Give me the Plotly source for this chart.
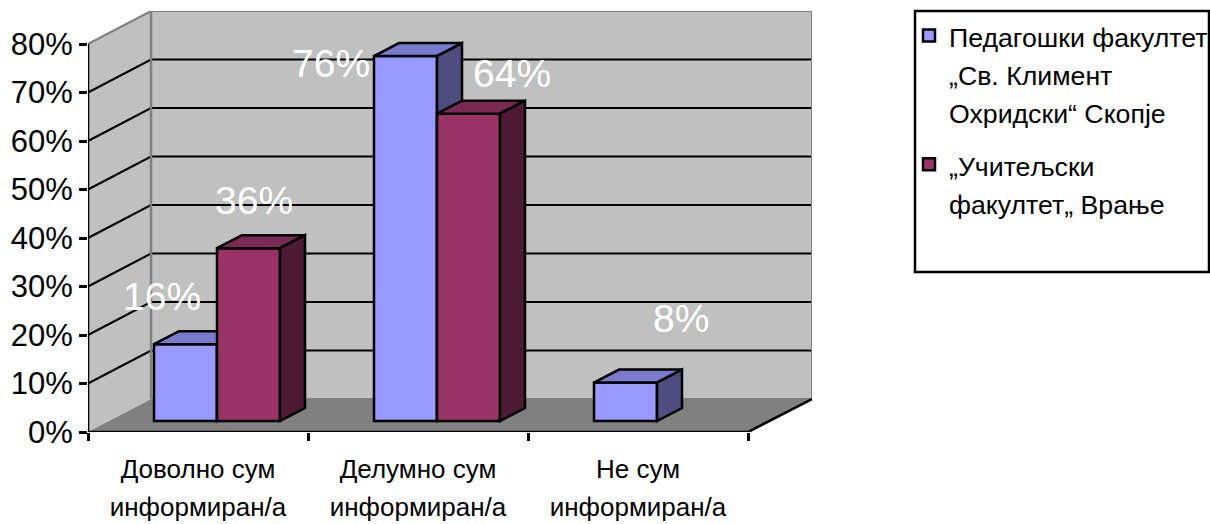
import plotly.graph_objects as go

categories = ["Доволно сум<br>информиран/а", "Делумно сум<br>информиран/а", "Не сум<br>информиран/а"]
series_names = ["Педагошки факултет<br>„Св. Климент<br>Охридски“ Скопје",
                "„Учитељски<br>факултет„ Врање"]
blue_values = [16, 76, 8]
maroon_values = [36, 64, None]
y_ticks = [0, 10, 20, 30, 40, 50, 60, 70, 80]

# hand-placed data label positions (axis units)
blue_label_x = [0.336, 1.105, 2.695]
blue_label_y = [27.9, 75.9, 23.5]
maroon_label_x = [0.755, 1.927]
maroon_label_y = [47.8, 74.0]

# pseudo-3D geometry in axis units
PX_X, PX_Y = 220.0, 4.85
X_MAX = 724 / PX_X
Y_MAX = 421 / PX_Y
N = len(categories)
WALL_DX, WALL_DY = 63 / PX_X, 33 / PX_Y
BAR_DX, BAR_DY = 25 / PX_X, 13 / PX_Y
BAR_BASE = 11 / PX_Y
BAR_W = 63 / PX_X
BAR_START = 66 / PX_X
BAR_SCALE = 0.99

FONT = "Liberation Sans, Arial, sans-serif"
BLACK = "#000000"
WALL, FLOOR = "#C0C0C0", "#808080"
BLUE = ("#9999FF", "#7A7ACC", "#4D4D80")
MAROON = ("#993366", "#7A2952", "#4D1A33")
OUTLINE = 2.5


def sized(text, px=26):
    return "<br>".join(f'<span style="font-size:{px}px">{part}</span>' for part in text.split("<br>"))


fig = go.Figure()


def add_series(values, name, colours, slot, xa, ya):
    xs, tops = [], []
    for i, v in enumerate(values):
        if v is None:
            continue
        xs.append(i + BAR_START + slot * BAR_W + BAR_W / 2)
        tops.append(v * BAR_SCALE)
    fig.add_bar(x=xs, y=tops, base=BAR_BASE, width=BAR_W, name=sized(name, 26.7), xaxis=xa, yaxis=ya,
                legendgroup=f"s{slot}",
                marker=dict(color=colours[0], line=dict(color=BLACK, width=OUTLINE)))
    for xc, h in zip(xs, tops):
        l, r = xc - BAR_W / 2, xc + BAR_W / 2
        t, b = BAR_BASE + h, BAR_BASE
        fig.add_scatter(x=[l, l + BAR_DX, r + BAR_DX, r, l],
                        y=[t, t + BAR_DY, t + BAR_DY, t, t],
                        mode="lines", fill="toself", fillcolor=colours[1],
                        line=dict(color=BLACK, width=OUTLINE), showlegend=False,
                        hoverinfo="skip", xaxis=xa, yaxis=ya)
        fig.add_scatter(x=[r, r + BAR_DX, r + BAR_DX, r, r],
                        y=[t, t + BAR_DY, b + BAR_DY, b, t],
                        mode="lines", fill="toself", fillcolor=colours[2],
                        line=dict(color=BLACK, width=OUTLINE), showlegend=False,
                        hoverinfo="skip", xaxis=xa, yaxis=ya)


add_series(blue_values, series_names[0], BLUE, 0, "x", "y")
add_series(maroon_values, series_names[1], MAROON, 1, "x2", "y2")

shapes = []


def poly(points, fill=None, color=None, width=0, layer="below"):
    path = "M " + " L ".join(f"{a} {b}" for a, b in points)
    if fill:
        path += " Z"
    shapes.append(dict(type="path", path=path, xref="x", yref="y", layer=layer,
                       fillcolor=fill or "rgba(0,0,0,0)",
                       line=dict(color=color or "rgba(0,0,0,0)", width=width)))


top = y_ticks[-1]
poly([(0, 0), (WALL_DX, WALL_DY), (X_MAX, WALL_DY), (X_MAX, top + WALL_DY),
      (WALL_DX, top + WALL_DY), (0, top)], fill=WALL)
poly([(0, 0), (N, 0), (X_MAX, WALL_DY), (WALL_DX, WALL_DY)], fill=FLOOR)
for v in y_ticks[1:-1]:
    poly([(0, v), (WALL_DX, v + WALL_DY), (X_MAX, v + WALL_DY)], color=BLACK, width=2)
poly([(WALL_DX, WALL_DY), (WALL_DX, top + WALL_DY)], color=FLOOR, width=2.5)
poly([(WALL_DX, WALL_DY), (X_MAX, WALL_DY), (X_MAX, top + WALL_DY),
      (WALL_DX, top + WALL_DY), (0, top)], color=FLOOR, width=2)
poly([(0, top), (0, 0), (N, 0), (X_MAX, WALL_DY)], color=BLACK, width=2.5, layer="above")

# legend frame
shapes.append(dict(type="rect", xref="paper", yref="paper", layer="below",
                   x0=(915 - 88) / 724, x1=(1209 - 88) / 724,
                   y0=(432 - 272) / 421, y1=(432 - 11) / 421,
                   fillcolor="#FFFFFF", line=dict(color=BLACK, width=2.5)))

annotations = []
for vals, lx, ly in ((blue_values, blue_label_x, blue_label_y),
                     ([v for v in maroon_values if v is not None], maroon_label_x, maroon_label_y)):
    for v, x, y in zip(vals, lx, ly):
        annotations.append(dict(x=x, y=y, xref="x", yref="y", text=f"{v}%", showarrow=False,
                                font=dict(family=FONT, size=39, color="#FFFFFF")))

tick_font = dict(family=FONT, size=29.2, color=BLACK)
fig.update_layout(
    width=1210, height=524,
    margin=dict(l=88, r=398, t=11, b=92, autoexpand=False),
    paper_bgcolor="#FFFFFF", plot_bgcolor="#FFFFFF",
    barmode="overlay", shapes=shapes, annotations=annotations,
    xaxis=dict(range=[0, X_MAX], tickmode="array", tickvals=list(range(N + 1)),
               showticklabels=False, ticks="outside", ticklen=8, tickwidth=2.5,
               tickcolor=BLACK, showgrid=False, zeroline=False, showline=False),
    xaxis2=dict(range=[0, X_MAX], overlaying="x", anchor="y2", side="bottom", tickmode="array",
                tickvals=[i + 0.5 for i in range(N)],
                ticktext=[sized(c) for c in categories], ticklabelstandoff=16,
                ticks="", tickfont=tick_font, showgrid=False, zeroline=False, showline=False),
    yaxis=dict(range=[0, Y_MAX], tickmode="array", tickvals=y_ticks,
               ticktext=[f"{v}%" for v in y_ticks], ticks="outside", ticklen=8, tickwidth=2.5,
               tickcolor=BLACK, tickfont=dict(family=FONT, size=31, color=BLACK),
               showgrid=False, zeroline=False, showline=False),
    yaxis2=dict(range=[0, Y_MAX], overlaying="y", anchor="x2", visible=False),
    legend=dict(x=(909 - 88) / 724, y=(432 - 10) / 421, xanchor="left", yanchor="top",
                bgcolor="rgba(0,0,0,0)", borderwidth=0,
                font=tick_font, traceorder="grouped", valign="top",
                itemwidth=30, entrywidth=262, entrywidthmode="pixels", tracegroupgap=12),
    hovermode=False,
)

fig.write_html("out.html", config={"displayModeBar": False},
               post_script="document.body.style.margin='0';")
